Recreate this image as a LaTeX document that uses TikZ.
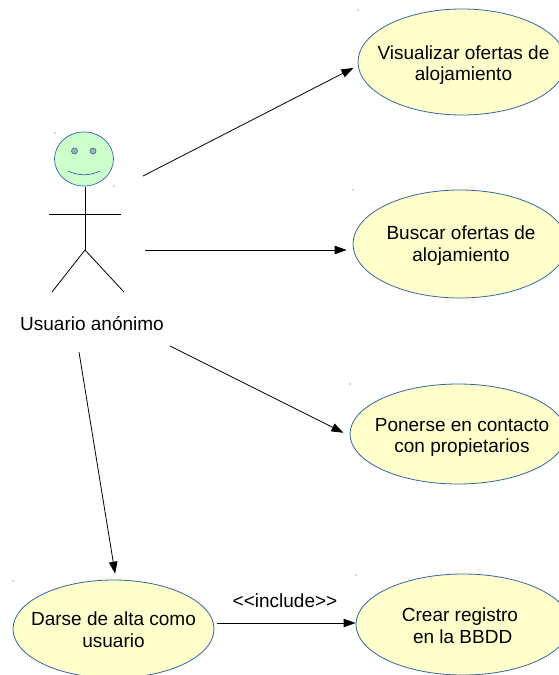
\documentclass[tikz,border=0pt]{standalone}
\usepackage{fontspec}
\setmainfont{Liberation Sans}
\usetikzlibrary{shapes.geometric}
\usetikzlibrary{arrows.meta}
\definecolor{usefill}{HTML}{FFFFCC}
\definecolor{facefill}{HTML}{CCFFCC}
\definecolor{eyefill}{HTML}{9DB8A8}
\definecolor{useline}{HTML}{3465A4}
\tikzset{
	usecase/.style = {draw = useline, fill = usefill, line width = 0.8pt, ellipse, inner sep = 0pt},
	usetext/.style = {align = center, font = \fontsize{19}{21.5}\selectfont},
	flow/.style = {black, line width = 0.8pt, -{Triangle[length = 12pt, width = 8.5pt]}},
	stick/.style = {black, line width = 0.8pt},
	dot/.style = {useline, line width = 0.6pt}
}

\begin{document}
\begin{tikzpicture}[x = 1pt, y = -1pt]
	\useasboundingbox (0, 0) rectangle (559, 675);
	\node[usecase, minimum width = 208pt, minimum height = 106pt, label = {[usetext, xshift = 1.5pt, yshift = -3pt]center:Visualizar ofertas de\\alojamiento}] (visualizar) at (462, 62) {};
	\node[usecase, minimum width = 214pt, minimum height = 108pt, label = {[usetext, xshift = 1pt, yshift = -1.5pt]center:Buscar ofertas de\\alojamiento}] (buscar) at (460, 244) {};
	\node[usecase, minimum width = 216pt, minimum height = 100pt, label = {[usetext, xshift = 4pt, yshift = -3.5pt]center:Ponerse en contacto\\con propietarios}] (ponerse) at (458, 434) {};
	\node[usecase, minimum width = 201pt, minimum height = 98pt, label = {[usetext, yshift = -0.5pt]center:Darse de alta como\\usuario}] (darse) at (113.5, 629) {};
	\node[usecase, minimum width = 214pt, minimum height = 101pt, label = {[usetext, xshift = -3pt, yshift = -1pt]center:Crear registro\\~en la BBDD}] (crear) at (463, 624.5) {};
	\node[usetext] (usuario) at (92, 324) {Usuario anónimo};
	\node[usetext] (include) at (285, 601) {<{}<include>{}>};

	% actor
	\draw[draw = useline, fill = facefill, line width = 0.7pt] (84, 159) ellipse (29.5 and 27);
	\draw[draw = useline, fill = eyefill, line width = 0.6pt] (74.5, 151) circle (3);
	\draw[draw = useline, fill = eyefill, line width = 0.6pt] (93, 151) circle (3);
	\draw[useline, line width = 0.7pt] (68, 171) .. controls (78, 176) and (90, 176) .. (100, 171);
	\draw[stick] (85, 187)--(85, 250);
	\draw[stick] (49, 214)--(121, 214);
	\draw[stick] (52, 292)--(85, 250)--(124, 292);

	% tiny marks
	\foreach \px/\py in {55/133, 114/186, 358/10, 353/190, 350/384, 356/575, 13/581}
		\fill[dot] (\px, \py) circle (0.6);

	\coordinate (a) at (143, 176);
	\coordinate (b) at (145, 250);
	\coordinate (c) at (170, 346);
	\coordinate (d) at (79, 352);
	\coordinate (e) at (217, 623);
	\draw[flow, shorten > = 5pt] (a)--(visualizar.182);
	\draw[flow, shorten > = 6pt] (b)--(buscar.west |- b);
	\draw[flow, shorten > = 7pt] (c)--(ponerse.181);
	\draw[flow, shorten > = 6pt] (d)--(darse.87);
	\draw[flow] (e)--(crear.west |- e);
\end{tikzpicture}
\end{document}
